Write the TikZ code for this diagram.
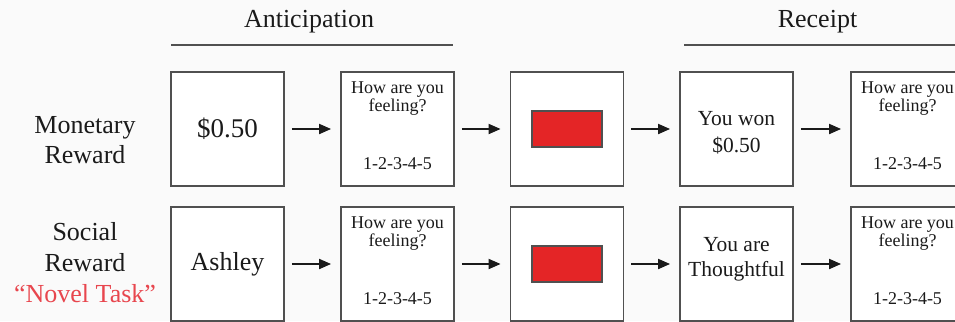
\documentclass[tikz,border=0pt]{standalone}
\usepackage{fontspec}
\setmainfont{Liberation Serif}
\usetikzlibrary{arrows.meta}
\definecolor{boxgray}{HTML}{505050}
\definecolor{ink}{HTML}{1A1A1A}
\definecolor{novelred}{HTML}{E8464E}
\definecolor{redfill}{HTML}{E42526}
\definecolor{bg}{HTML}{FAFAFA}
\newcommand\qbox[3]{%
  \node[box] (#1) at (#2,#3) {};
  \node[qt] (#1a) at (#2,#3-36) {How are you};
  \node[qt] (#1b) at (#2,#3-18) {feeling?};
  \node[qt] (#1c) at (#2,#3+40) {1-2-3-4-5};
}
\begin{document}
\begin{tikzpicture}[x=1bp,y=-1bp,
  box/.style={draw=boxgray, line width=1.8bp, minimum width=113bp, minimum height=114bp,
    inner sep=0pt, fill=white, text=ink, align=center},
  big/.style={font=\fontsize{26bp}{30bp}\selectfont},
  mt/.style={anchor=base, inner sep=0pt, text=ink, font=\fontsize{21.5bp}{26bp}\selectfont},
  qt/.style={anchor=base, inner sep=0pt, text=ink, font=\fontsize{18bp}{20bp}\selectfont},
  lab/.style={anchor=base, inner sep=0pt, text=ink, font=\fontsize{26bp}{30bp}\selectfont},
  redbox/.style={draw=boxgray, line width=1.3bp, fill=redfill, minimum width=70bp, minimum height=36bp, inner sep=0pt},
  arr/.style={line width=1.8bp, draw=ink, -{Triangle[length=12bp,width=10bp]}, shorten <=7bp, shorten >=9bp},
  hline/.style={draw=boxgray, line width=1.8bp}]
\fill[bg] (0,0) rectangle (955,321);
\useasboundingbox (0,0) rectangle (955,321);
\clip (0,0) rectangle (955,321);

% headings
\node[lab] (ant) at (309,27) {Anticipation};
\node[lab] (rec) at (817.5,27) {Receipt};
\coordinate (antl) at (171,45); \coordinate (antr) at (453,45);
\coordinate (recl) at (684,45); \coordinate (recr) at (960,45);
\draw[hline] (antl) -- (antr);
\draw[hline] (recl) -- (recr);

% left labels
\node[lab] (mon) at (85,133) {Monetary};
\node[lab] (monr) at (85,163) {Reward};
\node[lab] (soc) at (85,240) {Social};
\node[lab] (socr) at (85,271) {Reward};
\node[lab, text=novelred] (nov) at (85,302) {“Novel Task”};

% row 1
\node[box, font=\fontsize{27bp}{30bp}\selectfont] (m1) at (227.5,129) {\$0.50};
\qbox{m2}{397.5}{129}
\node[box] (m3) at (567,129) {};
\node[redbox] (m3r) at (567,129) {};
\node[box] (m4) at (736.5,129) {};
\node[mt] (m4a) at (736.5,125) {You won};
\node[mt] (m4b) at (736.5,152) {\$0.50};
\qbox{m5}{907.5}{129}

% row 2
\node[box, big] (s1) at (227.5,264) {Ashley};
\qbox{s2}{397.5}{264}
\node[box] (s3) at (567,264) {};
\node[redbox] (s3r) at (567,264) {};
\node[box] (s4) at (736.5,264) {};
\node[mt] (s4a) at (736.5,251) {You are};
\node[mt] (s4b) at (736.5,276) {Thoughtful};
\qbox{s5}{907.5}{264}

% arrows
\draw[arr] (m1) -- (m2);
\draw[arr] (m2) -- (m3);
\draw[arr] (m3) -- (m4);
\draw[arr] (m4) -- (m5);
\draw[arr] (s1) -- (s2);
\draw[arr] (s2) -- (s3);
\draw[arr] (s3) -- (s4);
\draw[arr] (s4) -- (s5);
\end{tikzpicture}
\end{document}
